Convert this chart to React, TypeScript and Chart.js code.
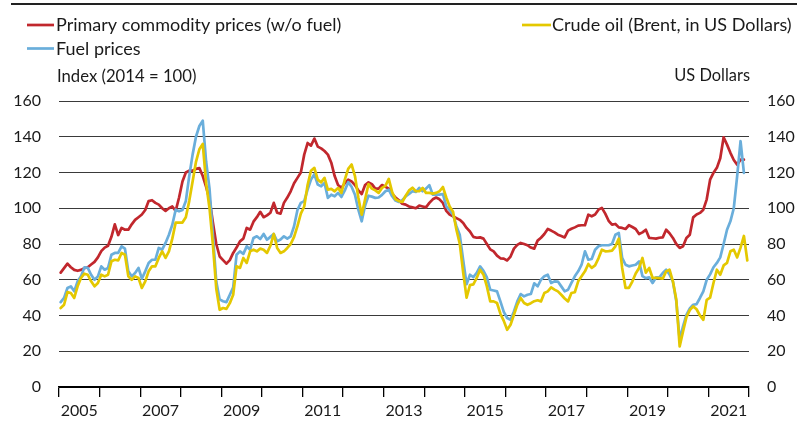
import { useEffect, useRef } from 'react';
import { Chart, registerables } from 'chart.js';

Chart.register(...registerables);

// ---------- data ----------
const START_YEAR = 2005;
const X_MIN = 2005;
const X_MAX = 2022;
const Y_MIN = 0;
const Y_MAX = 160;
const Y_STEP = 20;
const labelYears = [2005, 2007, 2009, 2011, 2013, 2015, 2017, 2019, 2021];

const legendCommodity = 'Primary commodity prices (w/o fuel)';
const legendFuel = 'Fuel prices';
const legendCrude = 'Crude oil (Brent, in US Dollars)';
const leftAxisTitle = 'Index (2014 = 100)';
const rightAxisTitle = 'US Dollars';

// monthly, Jan 2005 - Nov 2021
const commodityPrices = [
  64, 66.5, 69, 67, 65.5, 65, 65.5, 66.5, 67, 68.5, 70, 72.5,
  76, 78, 79, 84, 91, 85, 89, 88, 88, 91, 93.5, 95,
  96.5, 99, 104, 104.5, 103, 102, 100, 98.5, 100, 101, 98.5, 106,
  115, 120, 121, 121, 122, 122.5, 118, 112, 105, 92, 80, 73,
  71, 69, 71, 75, 78, 81.5, 83, 89, 88, 92.5, 95, 98,
  95, 96, 97.5, 103, 97.5, 97, 103, 106, 109.5, 114, 117, 120,
  130, 136.5, 135, 139, 134.5, 133.5, 132, 130, 125.5, 118, 113, 111.5,
  114, 116, 115, 113, 110, 108, 113, 114.5, 113.5, 111, 111, 113,
  112, 111, 108, 106, 104.5, 102.5, 102, 101, 100.5, 100, 101.5, 101,
  100.5, 103, 105, 106, 105, 103, 98.5, 96.5, 95.5, 94.5, 93.5, 91.8,
  89, 87, 84, 83.5, 83.7, 83, 80, 77, 75.9, 73.5, 72, 71.8,
  70.8, 73, 77.4, 79.5, 80.6, 80, 79.3, 78, 77.4, 81.9, 83.5, 85.6,
  88.4, 87.5, 86.5, 85.2, 84.5, 83.7, 87.5, 88.5, 89.3, 90.3, 90.5, 90.5,
  96.4, 95.5, 96.5, 99.2, 100.2, 97, 93, 90.8, 91.2, 89.3, 89, 88.4,
  90.5, 89.5, 88.4, 85.6, 86.5, 88, 83.4, 83.2, 83, 83.5, 83.7, 88,
  86, 83.4, 80, 77.8, 78.7, 83.4, 85.2, 94.9, 96.5, 97.4, 99.2, 105,
  116, 119.8, 122.6, 128, 139.7, 135.6, 131, 127, 124.4, 127.2, 127.2,
];

// monthly, Jan 2005 - Nov 2021
const fuelPrices = [
  47.5, 49.8, 55.4, 56.3, 53.5, 59.1, 61.9, 66.9, 66.6, 62.8, 60, 61.9,
  67.5, 65.6, 66.6, 74, 75, 75, 78.7, 77.4, 64.7, 61.9, 63.8, 66.6,
  60.6, 64.7, 69.4, 71.2, 71.2, 77.8, 76.8, 80.6, 85.2, 90.8, 99.2, 98.3,
  99, 104, 118, 130, 140, 146, 149, 126, 111, 85, 59, 49,
  48, 47.5, 51.6, 55.7, 74, 75.9, 74.5, 78.7, 76.8, 83.4, 84.3, 82.8,
  85.6, 82.4, 84, 85.6, 81.5, 82.5, 84.3, 83, 84.3, 89.9, 99, 103,
  104, 110.4, 116, 119, 113.2, 112.3, 114.2, 105.8, 107.6, 106.7, 108.6, 106.3,
  110, 114.6, 112, 107.6, 99.2, 92.7, 101.5, 107, 106.5, 105.8, 106, 107.5,
  109.5, 110.4, 106.7, 104.3, 103.5, 104.5, 106.7, 108, 109.5, 109.1, 111.4, 109.5,
  111, 112.9, 107.6, 107.6, 107.6, 108, 101, 99, 96.4, 90, 85, 71,
  57.5, 62.8, 61.5, 63.8, 67.5, 65, 61.3, 54.4, 54, 53.5, 47.9, 42,
  38.6, 37.6, 42.3, 47.9, 52, 50.7, 51.6, 52, 58, 56.3, 60, 62,
  62.8, 58.2, 59.1, 59, 56.3, 53.5, 54.4, 58.2, 61.9, 64.7, 68.4, 75.9,
  71.2, 71.6, 76.8, 78.7, 79.3, 79.3, 79.3, 80, 85.2, 86.2, 72.2, 68.4,
  67.5, 68, 68.4, 70.3, 62, 60.9, 61.3, 58.2, 61.3, 61.3, 63.8, 65.6,
  63, 59, 48, 26.4, 33.9, 40.4, 44, 46, 46.4, 49.8, 53.5, 60,
  63, 67, 69.4, 72.5, 80, 88, 92.7, 100, 118, 137.5, 119.8,
];

// monthly, Jan 2005 - Dec 2021
const crudeOil = [
  44.2, 46, 53.1, 52.6, 49.8, 56.3, 61, 63.4, 62.8, 59.1, 56.3, 58.2,
  62.8, 61.9, 62.8, 70.3, 71.2, 70.8, 75, 74, 61.9, 60, 61.9, 61,
  55.4, 59.1, 64.7, 67.5, 67.5, 72.2, 75.9, 72.2, 75.9, 83, 92, 92,
  92, 95, 104, 115, 126, 133, 136, 114, 100, 79.6, 55, 43.2,
  44.2, 43.7, 46.9, 51.6, 67.5, 66.6, 72.2, 69.4, 75.9, 76.8, 75.9, 77.4,
  76.8, 75, 79, 85.6, 77.8, 75, 75.9, 77.8, 80, 84, 90, 97,
  101, 113, 121, 122.6, 116, 114.5, 117, 110.4, 110.8, 109.5, 111.4, 108.6,
  116, 122, 124.5, 118, 106, 96.4, 105, 113.5, 111, 110, 108.6, 111.4,
  112.5, 116.4, 109, 105, 104, 103.5, 107, 110, 111.5, 109.5, 109.5, 111.4,
  108.6, 108.6, 108.2, 108.6, 109.5, 111.9, 106, 101, 98, 88, 80, 64,
  50, 57, 57.4, 61, 65.6, 62.8, 56.3, 47.9, 47.9, 47, 41, 37,
  32, 34.8, 40.4, 46, 49.8, 47, 46, 46.9, 48, 48.5, 47.9, 52.6,
  53.5, 55.7, 54.5, 53.5, 51.6, 49.5, 47.9, 52.6, 53, 59.1, 62, 64.7,
  68.8, 66.6, 68, 72, 76.8, 75.9, 76, 76.3, 78.7, 83, 66.6, 55.4,
  55.4, 59, 63.5, 66.6, 72.2, 64, 66.6, 61, 61, 60.9, 60.6, 64.7,
  65.6, 59.1, 49, 22.7, 31.1, 39, 43, 45.1, 43.5, 40, 37.6, 48.8,
  50, 58.2, 65.6, 62.8, 68, 69.4, 75.9, 76.8, 72.5, 78, 84.5, 70.8,
];

// ---------- styles ----------
const RED = '#c1272d';
const BLUE = '#6aaedb';
const YELLOW = '#e4c800';
const TEXT = '#1a1a1a';
const FONT_FAMILY = 'Lato, "Noto Sans", sans-serif';

function toPoints(values: number[]) {
  return values.map((v, i) => ({ x: START_YEAR + (i + 0.5) / 12, y: v }));
}

const annotationPlugin = {
  id: 'annotations',
  afterDraw(chart: any) {
    const ctx = chart.ctx as CanvasRenderingContext2D;
    ctx.save();
    // top rule
    ctx.strokeStyle = '#222';
    ctx.lineWidth = 2;
    ctx.beginPath();
    ctx.moveTo(11, 4);
    ctx.lineTo(797, 4);
    ctx.stroke();

    const entry = (x0: number, x1: number, y: number, color: string, text: string, tx: number, ty: number) => {
      ctx.strokeStyle = color;
      ctx.lineWidth = 2.7;
      ctx.beginPath();
      ctx.moveTo(x0, y);
      ctx.lineTo(x1, y);
      ctx.stroke();
      ctx.fillStyle = TEXT;
      ctx.textAlign = 'left';
      ctx.textBaseline = 'alphabetic';
      ctx.fillText(text, tx, ty);
    };
    ctx.font = `18px ${FONT_FAMILY}`;
    entry(27, 54, 25, RED, legendCommodity, 56, 31);
    entry(27, 54, 48.5, BLUE, legendFuel, 56, 54.5);
    entry(522, 551, 25, YELLOW, legendCrude, 552, 31);

    ctx.fillStyle = TEXT;
    ctx.font = `16.7px ${FONT_FAMILY}`;
    ctx.textAlign = 'left';
    ctx.fillText(leftAxisTitle, 57, 82);
    ctx.font = `16.4px ${FONT_FAMILY}`;
    ctx.textAlign = 'right';
    ctx.fillText(rightAxisTitle, 750, 81);
    ctx.restore();
  },
};

export default function App() {
  const canvasRef = useRef<HTMLCanvasElement | null>(null);

  useEffect(() => {
    const canvas = canvasRef.current;
    if (!canvas) return;
    const tickFont = { family: FONT_FAMILY, size: 16 };
    const xTicks: number[] = [];
    for (let y = X_MIN; y <= X_MAX; y++) xTicks.push(y);
    labelYears.forEach((y) => xTicks.push(y + 0.5));
    xTicks.sort((a, b) => a - b);

    const chart = new Chart(canvas, {
      type: 'line',
      data: {
        datasets: [
          { label: legendCrude, data: toPoints(crudeOil), borderColor: YELLOW, yAxisID: 'y2', order: 0 },
          { label: legendFuel, data: toPoints(fuelPrices), borderColor: BLUE, yAxisID: 'y', order: 1 },
          { label: legendCommodity, data: toPoints(commodityPrices), borderColor: RED, yAxisID: 'y', order: 2 },
        ],
      },
      options: {
        responsive: false,
        animation: false,
        layout: { padding: { top: 101, left: 0, right: 0, bottom: 0 } },
        elements: {
          point: { radius: 0 },
          line: { borderWidth: 2.7, tension: 0, borderCapStyle: 'round', borderJoinStyle: 'round' },
        },
        plugins: { legend: { display: false }, tooltip: { enabled: false } },
        scales: {
          x: {
            type: 'linear',
            min: X_MIN,
            max: X_MAX,
            afterBuildTicks: (scale: any) => {
              scale.ticks = xTicks.map((value) => ({ value }));
            },
            ticks: {
              autoSkip: false,
              maxRotation: 0,
              font: tickFont,
              color: TEXT,
              padding: 4,
              callback: (value: any) => {
                const v = Number(value);
                if (!Number.isInteger(v) && labelYears.includes(Math.floor(v))) return String(Math.floor(v));
                return '';
              },
            },
            grid: {
              drawOnChartArea: false,
              drawTicks: true,
              tickLength: 10,
              lineWidth: 1.3,
              color: (c: any) => (c.tick && Number.isInteger(c.tick.value) ? '#000' : 'rgba(0,0,0,0)'),
            },
            border: { display: true, color: '#000', width: 1.5 },
            afterFit: (scale: any) => {
              scale.height = 36;
            },
          },
          y: {
            position: 'left',
            min: Y_MIN,
            max: Y_MAX,
            ticks: { stepSize: Y_STEP, font: tickFont, color: TEXT, padding: 18 },
            grid: {
              drawTicks: false,
              lineWidth: 1,
              color: (c: any) => (c.tick && c.tick.value === 0 ? '#000' : '#3a3a3a'),
            },
            border: { display: false },
            afterFit: (scale: any) => {
              scale.width = 59;
            },
          },
          y2: {
            position: 'right',
            min: Y_MIN,
            max: Y_MAX,
            ticks: { stepSize: Y_STEP, font: tickFont, color: TEXT, padding: 18 },
            grid: { display: false, drawTicks: false },
            border: { display: false },
            afterFit: (scale: any) => {
              scale.width = 55;
            },
          },
        },
      } as any,
      plugins: [annotationPlugin],
    });
    return () => chart.destroy();
  }, []);

  return (
    <div style={{ position: 'fixed', left: 0, top: 0, width: 804, height: 423, background: '#fff' }}>
      <canvas ref={canvasRef} width={804} height={423} style={{ display: 'block' }} />
    </div>
  );
}
